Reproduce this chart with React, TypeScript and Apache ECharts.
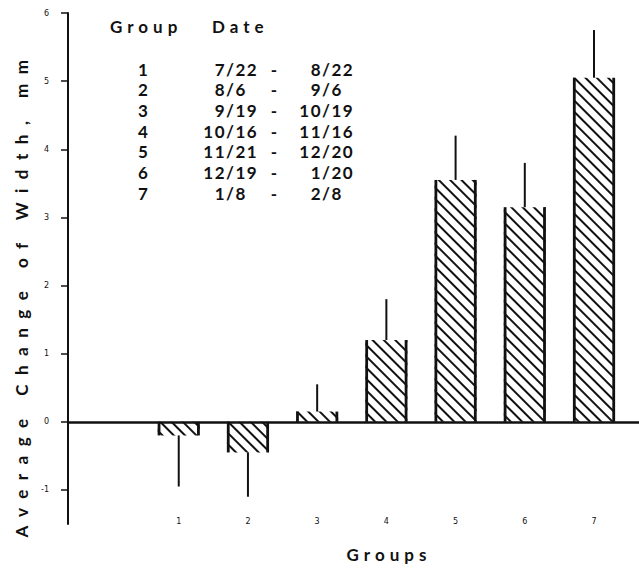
import React, { useEffect, useRef } from 'react';
import * as echarts from 'echarts';

// Growth groups and their sampling periods
const groups = [1, 2, 3, 4, 5, 6, 7];
const groupLabels = ['1', '2', '3', '4', '5', '6', '7'];
const meanChange = [-0.2, -0.45, 0.15, 1.2, 3.55, 3.15, 5.05];
const errorLength = [0.75, 0.65, 0.4, 0.6, 0.65, 0.65, 0.7];
const yTicks = [-1, 0, 1, 2, 3, 4, 5, 6];
const periodStart = ['7/22', '8/6', '9/19', '10/16', '11/21', '12/19', '1/8'];
const periodEnd = ['8/22', '9/6', '10/19', '11/16', '12/20', '1/20', '2/8'];

const Y_TITLE = 'Average Change of Width, mm';
const X_TITLE = 'Groups';
const FONT = 'Lato, "DejaVu Sans", sans-serif';
const BAR_W = 42;

export default function App() {
  const ref = useRef<HTMLDivElement>(null);

  useEffect(() => {
    const el = ref.current!;
    const chart = echarts.init(el, null, { renderer: 'svg' });

    const ctx = document.createElement('canvas').getContext('2d')!;
    const measure = (s: string, size: number) => {
      ctx.font = `bold ${size}px Lato`;
      return ctx.measureText(s).width;
    };

    const LEG = 17;
    const dateSp = 1.5;
    const titleSp = (478 - measure(Y_TITLE, 17)) / (Y_TITLE.length - 1);
    const spacing: Record<string, number> = {
      [Y_TITLE]: titleSp,
      [X_TITLE]: 5,
      Group: 5,
      Date: 5,
    };
    periodStart.concat(periodEnd).forEach((d) => (spacing[d] = dateSp));

    // left x for a date so that its slash is centred on slashX
    const dateX = (d: string, slashX: number) => {
      const month = d.split('/')[0];
      return slashX - (measure(month, LEG) + month.length * dateSp) - measure('/', LEG) / 2;
    };

    const txt = (text: string, x: number, y: number, align: string, size = LEG, extra: any = {}) => ({
      type: 'text',
      x,
      y,
      silent: true,
      ...extra,
      style: {
        text,
        align,
        verticalAlign: 'middle',
        fontFamily: FONT,
        fontWeight: 'bold',
        fontSize: size,
        fill: '#111',
      },
    });

    const legend: any[] = [txt('Group', 110, 26, 'left'), txt('Date', 212, 26, 'left')];
    groupLabels.forEach((g, i) => {
      const y = 69 + 20.7 * i;
      legend.push(txt(g, 143, y, 'center'));
      legend.push(txt(periodStart[i], dateX(periodStart[i], 230), y, 'left'));
      legend.push(txt('-', 274, y, 'center'));
      legend.push(txt(periodEnd[i], dateX(periodEnd[i], 326), y, 'left'));
    });

    const barData = groups.map((g, i) => [g, meanChange[i]]);
    const errData = groups.map((g, i) => [g, meanChange[i], errorLength[i]]);

    const option: any = {
      animation: false,
      backgroundColor: '#fff',
      grid: { left: 68, right: 0, top: 13, bottom: 44, containLabel: false },
      xAxis: {
        type: 'value',
        min: -0.6,
        max: 7.65,
        axisLine: { show: false, onZero: false },
        axisTick: { show: false },
        splitLine: { show: false },
        axisLabel: {
          customValues: groups,
          formatter: (v: number) => groupLabels[groups.indexOf(v)] ?? '',
          fontSize: 8,
          fontFamily: '"DejaVu Sans", sans-serif',
          color: '#111',
          margin: -7,
        },
      },
      yAxis: {
        type: 'value',
        min: -1.5,
        max: 6,
        axisLine: { show: true, onZero: false, lineStyle: { color: '#111', width: 2 } },
        axisTick: {
          show: true,
          customValues: yTicks,
          length: 7,
          lineStyle: { color: '#111', width: 1.5 },
        },
        axisLabel: {
          customValues: yTicks,
          fontSize: 8,
          fontFamily: '"DejaVu Sans", sans-serif',
          color: '#111',
          margin: 19,
        },
        splitLine: { show: false },
      },
      graphic: [
        txt(Y_TITLE, 21, 294, 'center', 17, { rotation: Math.PI / 2 }),
        txt(X_TITLE, 389, 554, 'center', 17),
        ...legend,
      ],
      series: [
        {
          type: 'bar',
          data: barData,
          barWidth: BAR_W,
          silent: true,
          itemStyle: {
            color: '#fff',
            decal: {
              symbol: 'rect',
              symbolSize: 1,
              color: '#111',
              backgroundColor: '#fff',
              dashArrayX: [1, 0],
              dashArrayY: [2, 6],
              rotation: Math.PI / 4,
            },
          },
          markLine: {
            silent: true,
            symbol: ['none', 'none'],
            label: { show: false },
            lineStyle: { color: '#111', width: 2.5, type: 'solid' },
            data: [{ yAxis: 0 }],
          },
        },
        {
          type: 'custom',
          data: errData,
          encode: { x: 0, y: 1 },
          silent: true,
          z: 5,
          renderItem: (_p: any, api: any) => {
            const x = api.value(0);
            const v = api.value(1);
            const e = api.value(2);
            const base = api.coord([x, 0]);
            const top = api.coord([x, v]);
            const tip = api.coord([x, v + Math.sign(v) * e]);
            const h = BAR_W / 2 - 1.3;
            return {
              type: 'group',
              children: [
                {
                  type: 'line',
                  shape: { x1: top[0] - h, y1: base[1], x2: top[0] - h, y2: top[1] },
                  style: { stroke: '#111', lineWidth: 2.8 },
                },
                {
                  type: 'line',
                  shape: { x1: top[0] + h, y1: base[1], x2: top[0] + h, y2: top[1] },
                  style: { stroke: '#111', lineWidth: 2.8 },
                },
                {
                  type: 'line',
                  shape: { x1: top[0], y1: top[1], x2: tip[0], y2: tip[1] },
                  style: { stroke: '#111', lineWidth: 2 },
                },
              ],
            };
          },
        },
      ],
    };

    chart.setOption(option);

    // widen the tracking of the lettered titles and legend
    el.querySelectorAll('text').forEach((t) => {
      const sp = spacing[(t.textContent || '').trim()];
      if (sp) (t as SVGTextElement).style.letterSpacing = `${sp}px`;
    });

    return () => chart.dispose();
  }, []);

  return (
    <div
      ref={ref}
      style={{ position: 'fixed', left: 0, top: 0, width: 639, height: 568, background: '#fff' }}
    />
  );
}
